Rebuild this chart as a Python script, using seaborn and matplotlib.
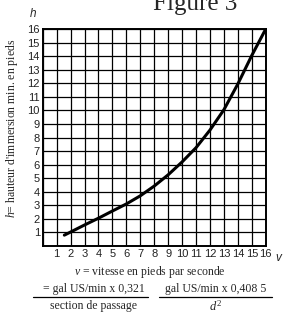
import matplotlib
matplotlib.use("Agg")
import matplotlib.pyplot as plt
import seaborn as sns
import pandas as pd

# curve: v (ft/s) vs h (ft)
v_vals = [1.55, 2, 3, 4, 5, 6, 7, 8, 9, 10, 11, 12, 13, 14, 15, 16]
h_vals = [0.8, 1.03, 1.55, 2.05, 2.58, 3.1, 3.7, 4.42, 5.25, 6.2, 7.25, 8.55, 10.05, 11.95, 14.05, 16.0]
x_ticks = list(range(1, 17))
y_ticks = list(range(1, 17))

df = pd.DataFrame({"v": v_vals, "h": h_vals})

sns.set_style("white")
plt.rcParams["font.family"] = ["Liberation Sans", "DejaVu Sans"]
plt.rcParams["mathtext.fontset"] = "custom"
plt.rcParams["mathtext.rm"] = "Liberation Serif"
plt.rcParams["mathtext.it"] = "Liberation Serif:italic"

fig = plt.figure(figsize=(2.83, 3.14), dpi=100)
ax = fig.add_axes([0.151, 0.2166, 0.788, 0.691])

sns.lineplot(data=df, x="v", y="h", ax=ax, color="black", linewidth=2.2)

ax.set_xlim(0, 16)
ax.set_ylim(0, 16)
ax.set_xticks(range(0, 17))
ax.set_yticks(range(0, 17))
ax.set_xticklabels([""] + [str(t) for t in x_ticks])
ax.set_yticklabels([""] + [str(t) for t in y_ticks])
ax.grid(True, color="black", linewidth=0.9)
ax.tick_params(length=0, pad=2, labelsize=8, colors="#222222")
for s in ax.spines.values():
    s.set_color("black")
    s.set_linewidth(1.4)
ax.set_xlabel("")
ax.set_ylabel("")

serif = "Liberation Serif"
fig.text(0.689, 0.968, "Figure 3", family=serif, fontsize=18, ha="center", va="baseline")
fig.text(0.117, 0.955, "h", fontsize=8.5, style="italic", ha="center", va="center")
fig.text(0.985, 0.178, "v", fontsize=8.5, style="italic", ha="center", va="center")
fig.text(0.042, 0.59, "$h$= hauteur d'immersion min. en pieds", family=serif,
         fontsize=8.5, rotation=90, ha="center", va="center")
fig.text(0.53, 0.133, "$v$ = vitesse en pieds par seconde", family=serif,
         fontsize=8.5, ha="center", va="center")
fig.text(0.33, 0.08, "= gal US/min x 0,321", family=serif, fontsize=8.5, ha="center", va="center")
fig.text(0.33, 0.027, "section de passage", family=serif, fontsize=8.5, ha="center", va="center")
fig.add_artist(plt.Line2D([0.117, 0.523], [0.055, 0.055], color="black", linewidth=0.9))
fig.text(0.762, 0.08, "gal US/min x 0,408 5", family=serif, fontsize=8.5, ha="center", va="center")
fig.text(0.762, 0.025, "$d^2$", family=serif, fontsize=9, ha="center", va="center")
fig.add_artist(plt.Line2D([0.562, 0.962], [0.055, 0.055], color="black", linewidth=0.9))

fig.savefig("out.png", dpi=100)
